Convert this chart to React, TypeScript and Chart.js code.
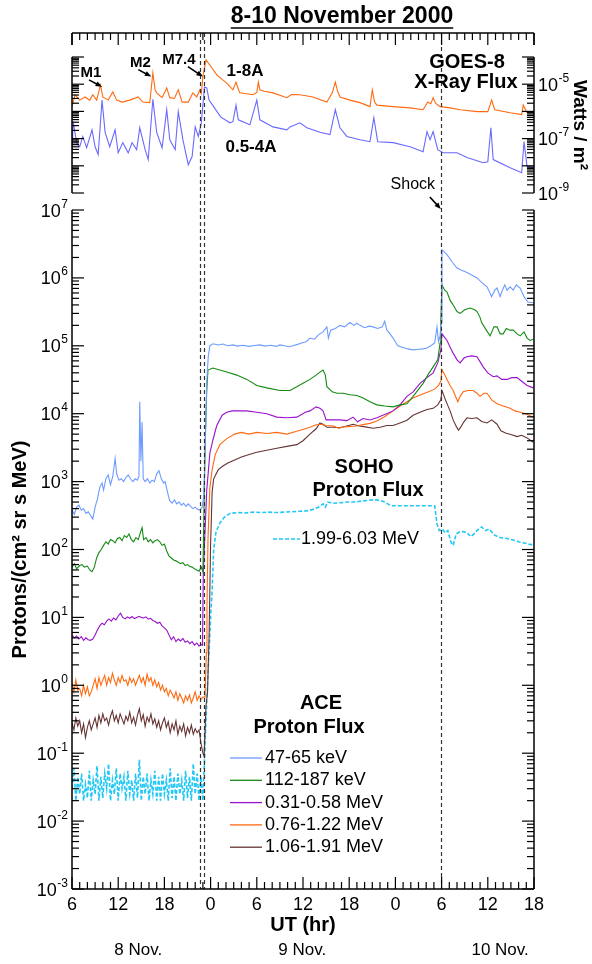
import React, { useEffect, useRef } from 'react';
import { Chart, registerables } from 'chart.js';

Chart.register(...registerables);

const FONT = '"Liberation Sans", Arial, Helvetica, sans-serif';
const W = 592;
const H = 964;

// ---------- axis / label data (time = hours since 8 Nov 2000 06:00 UT) ----------
const xTickLabels = ['6', '12', '18', '0', '6', '12', '18', '0', '6', '12', '18'];
const dayLabels = ['8 Nov.', '9 Nov.', '10 Nov.'];
const dayLabelHours = [8.6, 29.9, 55.6];
const eventLineHours = [16.6, 17.2, 47.9];
const protonDecades = [-3, -2, -1, 0, 1, 2, 3, 4, 5, 6, 7];
const goesDecades = [-9, -8, -7, -6, -5, -4];
const goesLabelDecades = [-5, -7, -9];
const flareLabels = ['M1', 'M2', 'M7.4'];
const flareTipHours = [3.9, 10.3, 17.0];
const flareTipFlux = [8.0e-6, 1.9e-5, 1.9e-5];

// ---------- GOES-8 X-ray flux (W/m^2) ----------
const goesLong: [number, number][] = [
  [0, 1.5e-6], [0.4, 4.1e-6], [1.0, 2.6e-6], [1.7, 3.4e-6], [2.3, 2.6e-6], [2.7, 4.1e-6], [3.2, 2.6e-6],
  [3.7, 9.4e-6], [4.0, 3.4e-6], [4.7, 2.6e-6], [5.3, 5.2e-6], [5.8, 2.6e-6], [6.5, 2.2e-6], [7.5, 2.6e-6],
  [8.6, 3.4e-6], [9.2, 2.2e-6], [10.1, 2.1e-6], [10.5, 2.6e-5], [10.8, 6.0e-6], [11.0, 4.8e-6], [11.7, 3.2e-6],
  [12.3, 7.3e-6], [12.7, 3.2e-6], [13.3, 3.0e-6], [13.8, 6.2e-6], [14.3, 2.2e-6], [15.1, 2.2e-6], [15.7, 4.8e-6],
  [16.2, 3.4e-6], [16.6, 6.2e-6], [16.8, 4.5e-6], [17.0, 1.9e-5], [17.4, 7.8e-5], [17.9, 5.1e-5], [18.8, 2.2e-5],
  [19.5, 1.5e-5], [20.1, 1.1e-5], [20.9, 6.2e-6], [21.3, 1.2e-5], [21.6, 6.5e-6], [21.8, 4.8e-6], [23.5, 4.1e-6],
  [24.0, 5.0e-6], [24.2, 1.2e-5], [24.4, 6.2e-6], [25.0, 5.5e-6], [26.1, 4.8e-6], [27.9, 3.2e-6], [28.5, 4.2e-6],
  [29.6, 4.1e-6], [31.3, 3.4e-6], [33.1, 2.2e-6], [33.8, 4.8e-6], [34.2, 1.2e-5], [34.5, 5.5e-6], [34.8, 3.4e-6],
  [36.1, 2.6e-6], [37.4, 2.1e-6], [38.7, 1.5e-6], [39.0, 6.2e-6], [39.3, 2.2e-6], [39.6, 1.7e-6], [41.7, 1.5e-6],
  [43.9, 1.35e-6], [45.6, 1.15e-6], [46.2, 2.2e-6], [46.6, 1.9e-6], [46.9, 3.2e-6], [47.2, 2.0e-6], [47.8, 1.5e-6],
  [49.1, 1.35e-6], [50.4, 1.15e-6], [52.6, 9.8e-7], [54.0, 9.8e-7], [54.5, 2.6e-6], [54.9, 1.15e-6], [56.9, 8.9e-7],
  [58.4, 7.6e-7], [58.6, 1.7e-6], [59.1, 8.9e-7], [60, 8.9e-7],
];
const goesShort: [number, number][] = [
  [0, 2.2e-8], [0.15, 4.2e-7], [0.6, 7.1e-8], [1.0, 5.0e-8], [1.4, 1.2e-7], [1.9, 4.6e-8], [2.6, 2.1e-7],
  [3.0, 5.0e-8], [3.4, 2.6e-8], [3.9, 2.6e-6], [4.3, 1.7e-7], [4.9, 5.0e-8], [5.6, 2.1e-7], [6.0, 3.0e-8],
  [6.6, 7.1e-8], [7.3, 3.0e-8], [7.8, 7.1e-8], [8.4, 3.9e-8], [8.8, 2.5e-7], [9.5, 3.9e-8], [9.9, 1.7e-8],
  [10.5, 2.8e-6], [11.0, 1.7e-7], [11.7, 4.6e-8], [12.3, 1.15e-6], [12.7, 9.1e-8], [13.4, 3.9e-8], [13.8, 9.8e-7],
  [14.4, 9.1e-8], [15.1, 1.1e-8], [15.6, 2.2e-8], [16.0, 2.7e-7], [16.4, 1.2e-7], [16.8, 3.8e-7], [17.2, 7.9e-6],
  [17.5, 7.3e-6], [17.8, 2.6e-6], [18.4, 1.5e-6], [19.3, 6.3e-7], [20.5, 3.8e-7], [20.9, 4.2e-7], [21.3, 1.7e-6],
  [21.6, 4.9e-7], [23.1, 3.2e-7], [24.0, 2.6e-6], [24.4, 4.9e-7], [26.1, 2.7e-7], [27.9, 2.1e-7], [28.3, 2.7e-7],
  [29.6, 3.8e-7], [30.5, 2.5e-7], [32.2, 1.7e-7], [33.5, 1.4e-7], [34.2, 1.15e-6], [34.8, 2.5e-7], [35.7, 1.2e-7],
  [37.4, 9.1e-8], [38.7, 7.7e-8], [39.2, 5.9e-7], [39.7, 7.7e-8], [41.7, 7.1e-8], [43.9, 5.0e-8], [45.6, 3.3e-8],
  [46.1, 1.8e-7], [46.5, 9.1e-8], [46.9, 1.8e-7], [47.5, 3.9e-8], [48.2, 3.0e-8], [50.0, 3.0e-8], [51.3, 2.0e-8],
  [53.4, 1.3e-8], [54.0, 1.4e-8], [54.4, 2.5e-7], [54.7, 1.7e-8], [56.9, 8.5e-9], [58.4, 5.6e-9], [58.7, 7.7e-8],
  [59.1, 9.3e-9], [60, 8.5e-9],
];

// ---------- ACE proton flux ----------
const ace47: [number, number][] = [
  [0, 380], [0.3, 330], [0.6, 420], [0.9, 450], [1.2, 380], [1.5, 400], [1.8, 340], [2.1, 360], [2.4, 320],
  [2.7, 280], [3.0, 420], [3.3, 550], [3.6, 820], [3.9, 950], [4.1, 750], [4.4, 1100], [4.7, 1250], [5.0, 900],
  [5.3, 1200], [5.6, 2200], [5.8, 1300], [6.1, 1050], [6.4, 1100], [6.7, 1000], [7.0, 1150], [7.3, 1250],
  [7.6, 1100], [7.9, 1000], [8.2, 1100], [8.5, 1050], [8.7, 1200], [8.8, 15000], [8.95, 2000], [9.1, 7500],
  [9.25, 1100], [9.5, 1000], [9.8, 1100], [10.1, 950], [10.4, 1050], [10.7, 1000], [11.0, 1300], [11.3, 1450],
  [11.6, 1100], [11.9, 950], [12.1, 1000], [12.4, 700], [12.7, 520], [13.0, 480], [13.3, 540], [13.6, 470],
  [13.9, 500], [14.2, 450], [14.5, 480], [14.8, 430], [15.1, 470], [15.4, 430], [15.7, 400], [16.0, 420],
  [16.3, 390], [16.6, 380], [16.9, 420], [17.1, 600], [17.3, 3000], [17.5, 3.0e4], [17.7, 7.0e4], [17.9, 1.0e5],
  [18.3, 1.07e5], [19.0, 1.03e5], [19.6, 1.06e5], [20.2, 1.0e5], [20.9, 1.03e5], [21.5, 9.9e4], [22.2, 1.02e5],
  [23.0, 9.8e4], [23.7, 1.01e5], [24.4, 1.03e5], [25.1, 9.9e4], [25.8, 1.02e5], [26.5, 9.8e4], [27.0, 1.03e5],
  [27.6, 1.0e5], [28.2, 9.7e4], [28.7, 1.0e5], [29.3, 1.05e5], [29.8, 1.1e5], [30.4, 1.15e5], [30.9, 1.3e5],
  [31.5, 1.25e5], [32.0, 1.45e5], [32.6, 1.6e5], [33.1, 1.9e5], [33.3, 1.3e5], [33.6, 1.7e5], [34.2, 1.8e5],
  [34.8, 2.0e5], [35.4, 1.9e5], [36.1, 2.2e5], [36.6, 2.0e5], [37.0, 2.15e5], [37.4, 2.0e5], [38.0, 1.85e5],
  [38.6, 1.95e5], [39.1, 1.9e5], [39.7, 1.8e5], [40.3, 1.9e5], [40.6, 2.3e5], [40.9, 1.7e5], [41.3, 1.5e5],
  [41.7, 1.3e5], [42.3, 1.0e5], [42.9, 9.5e4], [43.6, 9.0e4], [44.3, 8.7e4], [45.0, 8.9e4], [45.6, 9.0e4],
  [46.1, 9.3e4], [46.6, 1.0e5], [47.1, 1.1e5], [47.4, 1.9e5], [47.6, 1.15e5], [47.8, 1.4e5], [47.95, 2.2e5],
  [48.05, 2.6e6], [48.7, 2.2e6], [49.4, 1.7e6], [50.0, 1.4e6], [50.6, 1.3e6], [51.3, 1.2e6], [51.9, 1.1e6],
  [52.6, 1.0e6], [53.2, 8.6e5], [53.9, 7.4e5], [54.5, 5.3e5], [54.9, 6.6e5], [55.2, 7.1e5], [55.6, 5.3e5],
  [55.8, 6.2e5], [56.2, 7.9e5], [56.5, 6.6e5], [56.9, 7.4e5], [57.3, 6.6e5], [57.7, 7.9e5], [58.2, 7.1e5],
  [58.7, 5.3e5], [59.2, 4.4e5], [59.9, 4.3e5],
];
const ace112: [number, number][] = [
  [0, 55], [0.3, 62], [0.6, 52], [1.0, 58], [1.3, 60], [1.6, 55], [2.0, 57], [2.3, 50], [2.6, 47], [2.9, 55],
  [3.2, 75], [3.5, 90], [3.8, 100], [4.1, 115], [4.4, 130], [4.7, 120], [5.0, 140], [5.3, 135], [5.6, 125],
  [5.9, 145], [6.2, 150], [6.5, 135], [6.8, 160], [7.1, 150], [7.4, 170], [7.7, 140], [8.0, 130], [8.3, 150],
  [8.6, 140], [8.9, 180], [9.1, 210], [9.3, 140], [9.6, 150], [9.9, 130], [10.2, 140], [10.5, 125], [10.8, 135],
  [11.1, 140], [11.4, 130], [11.7, 115], [12.0, 120], [12.3, 95], [12.6, 80], [12.9, 75], [13.2, 70], [13.5, 68],
  [13.8, 65], [14.1, 62], [14.4, 64], [14.7, 58], [15.0, 60], [15.3, 56], [15.6, 55], [15.9, 52], [16.2, 50],
  [16.5, 48], [16.8, 55], [17.0, 47], [17.15, 450], [17.3, 4000], [17.5, 2.2e4], [17.66, 4.4e4], [18.3, 4.7e4],
  [19.2, 4.4e4], [20.1, 4.1e4], [21.4, 3.7e4], [22.7, 3.2e4], [24.0, 2.6e4], [25.3, 2.4e4], [27.0, 2.2e4],
  [28.3, 2.2e4], [29.2, 2.5e4], [30.0, 2.8e4], [30.9, 3.2e4], [31.7, 3.7e4], [32.2, 4.1e4], [32.6, 4.4e4],
  [32.9, 3.7e4], [33.1, 2.5e4], [33.8, 2.1e4], [34.4, 2.0e4], [35.2, 2.0e4], [36.1, 1.9e4], [37.0, 1.85e4],
  [37.8, 1.7e4], [38.7, 1.5e4], [39.6, 1.35e4], [40.6, 1.3e4], [41.7, 1.26e4], [42.6, 1.35e4], [43.5, 1.4e4],
  [44.3, 1.8e4], [44.9, 2.2e4], [45.6, 2.8e4], [46.2, 3.7e4], [46.9, 4.9e4], [47.5, 6.2e4], [47.8, 1.1e5],
  [47.9, 2.4e5], [48.05, 7.9e5], [48.4, 6.6e5], [48.7, 6.2e5], [49.1, 4.7e5], [49.5, 4.0e5], [50.0, 3.2e5],
  [50.4, 3.0e5], [51.0, 3.4e5], [51.7, 3.6e5], [52.3, 3.4e5], [52.6, 3.2e5], [53.0, 2.6e5], [53.2, 2.2e5],
  [53.8, 1.7e5], [54.3, 1.4e5], [54.8, 1.9e5], [55.2, 1.9e5], [55.6, 1.5e5], [56.0, 1.5e5], [56.4, 1.8e5],
  [56.9, 1.7e5], [57.3, 1.7e5], [57.8, 1.5e5], [58.2, 1.4e5], [58.7, 1.6e5], [59.1, 1.3e5], [59.5, 1.2e5],
  [59.9, 1.25e5],
];
const ace031: [number, number][] = [
  [0, 5.5], [0.3, 5.0], [0.6, 5.3], [0.9, 4.8], [1.2, 5.2], [1.5, 4.6], [1.8, 5.0], [2.1, 4.7], [2.4, 4.6],
  [2.7, 4.8], [3.0, 5.5], [3.3, 6.5], [3.6, 7.5], [3.9, 8.2], [4.2, 7.8], [4.5, 8.8], [4.8, 9.5], [5.1, 8.8],
  [5.4, 9.8], [5.7, 9.2], [6.0, 10.5], [6.3, 11.5], [6.6, 10.0], [6.9, 9.5], [7.2, 10.2], [7.5, 9.7], [7.8, 10.3],
  [8.1, 9.6], [8.4, 10.0], [8.7, 10.4], [9.0, 10.0], [9.3, 9.8], [9.6, 10.2], [9.9, 9.4], [10.2, 9.7], [10.5, 9.0],
  [10.8, 8.7], [11.1, 8.2], [11.4, 8.5], [11.7, 7.5], [12.0, 7.0], [12.3, 6.5], [12.6, 5.5], [12.9, 4.7],
  [13.2, 5.2], [13.5, 4.4], [13.8, 4.8], [14.1, 4.5], [14.4, 4.9], [14.7, 4.3], [15.0, 4.5], [15.3, 4.1],
  [15.6, 4.4], [15.9, 3.9], [16.2, 4.2], [16.5, 3.8], [16.8, 4.0], [16.95, 3.9], [17.05, 45], [17.5, 750],
  [17.9, 2600], [18.3, 4100], [18.8, 6700], [19.5, 9500], [20.1, 1.05e4], [20.8, 1.1e4], [21.8, 1.1e4],
  [22.7, 1.1e4], [24.0, 1.05e4], [25.3, 1.0e4], [26.6, 8900], [27.9, 8700], [29.2, 8900], [30.3, 1.05e4],
  [30.9, 1.1e4], [31.7, 1.26e4], [32.2, 1.2e4], [32.6, 1.1e4], [33.0, 8100], [33.9, 8100], [34.8, 8100],
  [35.7, 7900], [36.5, 8900], [37.1, 7600], [37.8, 8500], [38.7, 8100], [39.6, 8700], [40.6, 9700],
  [41.7, 1.1e4], [42.6, 1.35e4], [43.5, 1.8e4], [44.3, 2.1e4], [45.2, 2.8e4], [46.1, 3.4e4], [46.9, 4.0e4],
  [47.5, 5.6e4], [47.9, 8.7e4], [48.05, 1.5e5], [48.7, 1.2e5], [49.1, 9.6e4], [49.5, 7.8e4], [50.0, 6.2e4],
  [50.4, 5.6e4], [50.9, 6.6e4], [51.3, 6.9e4], [51.9, 7.1e4], [52.6, 6.9e4], [53.0, 5.8e4], [53.4, 4.9e4],
  [54.0, 4.0e4], [54.7, 3.5e4], [55.2, 3.6e4], [55.8, 3.2e4], [56.5, 3.2e4], [57.1, 3.4e4], [57.8, 3.4e4],
  [58.4, 3.0e4], [59.1, 2.6e4], [59.9, 2.4e4],
];
const ace076: [number, number][] = [
  [0, 1.1], [0.25, 0.8], [0.5, 1.2], [0.75, 0.85], [1.0, 0.9], [1.25, 0.7], [1.5, 1.0], [1.75, 0.75], [2.0, 0.95],
  [2.25, 0.7], [2.5, 0.8], [2.75, 1.0], [3.0, 1.25], [3.25, 0.9], [3.5, 1.3], [3.75, 1.0], [4.0, 1.2], [4.25, 1.4],
  [4.5, 1.0], [4.75, 1.3], [5.0, 1.1], [5.25, 1.5], [5.5, 1.2], [5.75, 1.0], [6.0, 1.3], [6.25, 1.1], [6.5, 1.4],
  [6.75, 1.15], [7.0, 1.2], [7.25, 1.0], [7.5, 1.3], [7.75, 1.1], [8.0, 1.25], [8.25, 1.0], [8.5, 1.2], [8.75, 1.4],
  [9.0, 1.1], [9.25, 1.3], [9.5, 1.0], [9.75, 1.45], [10.0, 1.15], [10.25, 1.3], [10.5, 1.0], [10.75, 1.2],
  [11.0, 0.95], [11.25, 1.1], [11.5, 0.85], [11.75, 1.0], [12.0, 0.8], [12.25, 0.9], [12.5, 0.7], [12.75, 0.85],
  [13.0, 0.75], [13.25, 0.65], [13.5, 0.8], [13.75, 0.6], [14.0, 0.75], [14.25, 0.65], [14.5, 0.55], [14.75, 0.7],
  [15.0, 0.6], [15.25, 0.72], [15.5, 0.55], [15.75, 0.65], [16.0, 0.8], [16.25, 0.6], [16.5, 0.7], [16.75, 0.62],
  [17.0, 0.67], [17.27, 0.67], [17.45, 3], [17.53, 14], [17.66, 140], [17.9, 800], [18.2, 1500], [18.6, 2500],
  [19.2, 3500], [20.1, 4300], [21.1, 5000], [22.0, 5300], [23.0, 5000], [24.0, 5300], [25.3, 5100], [26.6, 5300],
  [27.9, 5000], [29.2, 5500], [30.3, 6000], [30.9, 6300], [31.6, 6800], [32.2, 7000], [33.0, 6700], [34.0, 6600],
  [34.6, 6100], [35.3, 6400], [36.1, 6500], [37.0, 6600], [37.8, 6900], [38.7, 7200], [39.6, 7800], [40.6, 9000],
  [41.7, 1.1e4], [42.6, 1.3e4], [43.5, 1.5e4], [44.3, 1.7e4], [45.3, 1.9e4], [46.3, 2.1e4], [47.1, 2.3e4],
  [47.6, 2.6e4], [47.9, 3.0e4], [48.05, 4.5e4], [48.7, 3.2e4], [49.1, 2.6e4], [49.5, 2.2e4], [49.9, 1.7e4],
  [50.1, 1.5e4], [50.4, 1.8e4], [50.8, 2.1e4], [51.4, 2.2e4], [52.1, 2.2e4], [52.6, 2.0e4], [53.0, 1.8e4],
  [53.5, 2.0e4], [53.9, 2.0e4], [54.5, 1.6e4], [55.2, 1.4e4], [56.0, 1.3e4], [56.9, 1.2e4], [57.5, 1.1e4],
  [58.2, 1.05e4], [58.9, 1.0e4], [59.9, 8900],
];
const ace106: [number, number][] = [
  [0, 0.28], [0.25, 0.22], [0.5, 0.33], [0.75, 0.25], [1.0, 0.3], [1.25, 0.2], [1.5, 0.27], [1.75, 0.17],
  [2.0, 0.24], [2.25, 0.3], [2.5, 0.22], [2.75, 0.27], [3.0, 0.33], [3.25, 0.24], [3.5, 0.36], [3.75, 0.28],
  [4.0, 0.38], [4.25, 0.3], [4.5, 0.33], [4.75, 0.26], [5.0, 0.35], [5.25, 0.42], [5.5, 0.3], [5.75, 0.36],
  [6.0, 0.28], [6.25, 0.38], [6.5, 0.32], [6.75, 0.27], [7.0, 0.35], [7.25, 0.3], [7.5, 0.4], [7.75, 0.28],
  [8.0, 0.34], [8.25, 0.26], [8.5, 0.36], [8.75, 0.45], [9.0, 0.3], [9.25, 0.37], [9.5, 0.25], [9.75, 0.34],
  [10.0, 0.29], [10.25, 0.38], [10.5, 0.27], [10.75, 0.32], [11.0, 0.24], [11.25, 0.3], [11.5, 0.22], [11.75, 0.28],
  [12.0, 0.33], [12.25, 0.24], [12.5, 0.29], [12.75, 0.2], [13.0, 0.27], [13.25, 0.22], [13.5, 0.3], [13.75, 0.19],
  [14.0, 0.25], [14.25, 0.21], [14.5, 0.27], [14.75, 0.18], [15.0, 0.24], [15.25, 0.2], [15.5, 0.26], [15.75, 0.19],
  [16.0, 0.23], [16.25, 0.2], [16.5, 0.22], [16.75, 0.14], [17.0, 0.1], [17.15, 0.09], [17.4, 0.5], [17.6, 0.8],
  [17.8, 5], [18.0, 120], [18.2, 700], [18.4, 1100], [19.0, 1500], [19.6, 1700], [20.3, 1900], [21.2, 2100],
  [22.0, 2300], [23.0, 2500], [24.0, 2700], [25.3, 2900], [26.6, 3100], [27.9, 3300], [29.2, 3500], [30.0, 4000],
  [30.9, 5000], [31.7, 6000], [32.2, 7300], [32.6, 7000], [33.1, 6300], [34.0, 6300], [34.8, 6200], [35.7, 6600],
  [36.5, 7000], [37.3, 6600], [38.1, 6400], [39.1, 6100], [40.0, 6300], [40.9, 6700], [41.7, 6700], [42.6, 7300],
  [43.5, 8000], [44.3, 9500], [45.2, 1.05e4], [46.1, 1.15e4], [46.9, 1.2e4], [47.5, 1.35e4], [47.9, 1.6e4],
  [48.05, 2.2e4], [48.5, 1.6e4], [49.1, 1.1e4], [49.5, 8100], [49.9, 6500], [50.2, 5700], [50.5, 6400],
  [50.9, 7600], [51.3, 8700], [51.9, 8500], [52.6, 8700], [53.2, 7700], [53.9, 7300], [54.5, 8100], [55.2, 7000],
  [55.7, 5600], [56.3, 5200], [57.1, 4900], [57.8, 4600], [58.4, 4800], [59.1, 4400], [59.9, 3800],
];

// ---------- SOHO proton flux ----------
const soho199: [number, number][] = [
  [0, 0.03], [0.25, 0.06], [0.5, 0.02], [0.75, 0.045], [1.0, 0.025], [1.25, 0.05], [1.5, 0.02], [1.75, 0.035],
  [2.0, 0.022], [2.25, 0.055], [2.5, 0.02], [2.75, 0.04], [3.0, 0.025], [3.25, 0.065], [3.5, 0.02], [3.75, 0.045],
  [4.0, 0.022], [4.25, 0.05], [4.5, 0.03], [4.75, 0.07], [5.0, 0.02], [5.25, 0.04], [5.5, 0.025], [5.75, 0.06],
  [6.0, 0.02], [6.25, 0.05], [6.5, 0.03], [6.75, 0.045], [7.0, 0.02], [7.25, 0.055], [7.5, 0.025], [7.75, 0.04],
  [8.0, 0.02], [8.25, 0.05], [8.5, 0.022], [8.75, 0.08], [9.0, 0.02], [9.25, 0.045], [9.5, 0.025], [9.75, 0.05],
  [10.0, 0.02], [10.25, 0.04], [10.5, 0.025], [10.75, 0.055], [11.0, 0.02], [11.25, 0.045], [11.5, 0.02],
  [11.75, 0.05], [12.0, 0.025], [12.25, 0.04], [12.5, 0.02], [12.75, 0.06], [13.0, 0.022], [13.25, 0.045],
  [13.5, 0.02], [13.75, 0.05], [14.0, 0.025], [14.25, 0.04], [14.5, 0.02], [14.75, 0.055], [15.0, 0.022],
  [15.25, 0.045], [15.5, 0.02], [15.75, 0.07], [16.0, 0.025], [16.25, 0.05], [16.5, 0.02], [16.75, 0.045],
  [17.0, 0.02], [17.3, 0.16], [17.66, 1.5], [18.0, 10], [18.2, 25], [18.4, 100], [18.7, 180], [19.2, 245],
  [19.8, 300], [20.5, 340], [21.5, 350], [22.5, 345], [23.5, 355], [24.5, 350], [25.5, 355], [26.5, 350],
  [27.5, 355], [28.5, 360], [29.5, 365], [30.5, 370], [31.3, 390], [32.0, 420], [32.6, 470], [32.9, 420],
  [33.2, 500], [34.0, 480], [35.0, 490], [35.7, 500], [36.5, 500], [37.2, 510], [37.8, 520], [38.5, 530],
  [39.2, 540], [40.0, 530], [40.6, 500], [41.0, 470], [41.5, 440], [42.5, 440], [43.5, 440], [44.5, 440],
  [45.5, 440], [46.5, 440], [47.1, 440], [47.4, 240], [47.7, 190], [48.1, 200], [48.5, 175], [48.8, 190],
  [49.2, 130], [49.5, 115], [49.9, 170], [50.5, 185], [51.2, 180], [51.8, 155], [52.2, 170], [52.8, 200],
  [53.2, 215], [53.7, 190], [54.2, 200], [54.8, 165], [55.5, 150], [56.5, 145], [57.3, 138], [58.0, 130],
  [58.7, 125], [59.3, 120], [59.9, 117],
];

const aceLegend = ['47-65 keV', '112-187 keV', '0.31-0.58 MeV', '0.76-1.22 MeV', '1.06-1.91 MeV'];
const sohoLegend = '1.99-6.03 MeV';

// ---------- layout (pixels) ----------
const FRAME = { left: 72, right: 534, top: 33, bottom: 889 };
const GOES_PIX = { top: 57, bottom: 193 }; // 1e-4 .. 1e-9
const PROTON_TOP_PIX = 210; // 1e7

const goesPerDec = (GOES_PIX.bottom - GOES_PIX.top) / 5;
const protonPerDec = (FRAME.bottom - PROTON_TOP_PIX) / 10;
const yXmax = Math.pow(10, -4 + (GOES_PIX.top - FRAME.top) / goesPerDec);
const yXmin = Math.pow(10, -9 - (FRAME.bottom - GOES_PIX.bottom) / goesPerDec);
const yPmax = Math.pow(10, 7 + (PROTON_TOP_PIX - FRAME.top) / protonPerDec);
const yPmin = 1e-3;

const toXY = (arr: [number, number][]) => arr.map(([x, y]) => ({ x, y }));

function line(ctx: CanvasRenderingContext2D, x1: number, y1: number, x2: number, y2: number) {
  ctx.beginPath();
  ctx.moveTo(x1, y1);
  ctx.lineTo(x2, y2);
  ctx.stroke();
}

function arrow(ctx: CanvasRenderingContext2D, x1: number, y1: number, x2: number, y2: number) {
  ctx.lineWidth = 1.6;
  line(ctx, x1, y1, x2 - (x2 - x1) * 0.2, y2 - (y2 - y1) * 0.2);
  const a = Math.atan2(y2 - y1, x2 - x1);
  const s = 7;
  ctx.beginPath();
  ctx.moveTo(x2, y2);
  ctx.lineTo(x2 - s * Math.cos(a - 0.38), y2 - s * Math.sin(a - 0.38));
  ctx.lineTo(x2 - s * Math.cos(a + 0.38), y2 - s * Math.sin(a + 0.38));
  ctx.closePath();
  ctx.fill();
}

function text(ctx: CanvasRenderingContext2D, s: string, x: number, y: number, size: number, bold = false, align: CanvasTextAlign = 'center') {
  ctx.font = `${bold ? 'bold ' : ''}${size}px ${FONT}`;
  ctx.textAlign = align;
  ctx.textBaseline = 'middle';
  ctx.fillText(s, x, y);
}

function drawPow(ctx: CanvasRenderingContext2D, exp: number, x: number, y: number, align: 'left' | 'right') {
  const base = '10';
  const e = String(exp);
  ctx.font = `18px ${FONT}`;
  const wb = ctx.measureText(base).width;
  ctx.font = `12px ${FONT}`;
  const we = ctx.measureText(e).width;
  const x0 = align === 'right' ? x - wb - we - 0.5 : x;
  ctx.textAlign = 'left';
  ctx.textBaseline = 'alphabetic';
  ctx.font = `18px ${FONT}`;
  ctx.fillText(base, x0, y + 6.5);
  ctx.font = `12px ${FONT}`;
  ctx.fillText(e, x0 + wb + 0.5, y - 2.5);
}

const overlayPlugin = {
  id: 'overlay',
  afterDatasetsDraw(chart: any) {
    const ctx: CanvasRenderingContext2D = chart.ctx;
    const xs = chart.scales.x;
    const yP = chart.scales.yP;
    const yX = chart.scales.yX;
    const { left: L, right: R, top: T, bottom: B } = chart.chartArea;
    ctx.save();
    ctx.fillStyle = '#000';

    // event / shock dashed lines
    ctx.strokeStyle = '#333';
    ctx.lineWidth = 1.2;
    ctx.setLineDash([4, 3]);
    eventLineHours.forEach((h) => {
      const x = Math.round(xs.getPixelForValue(h)) + 0.5;
      line(ctx, x, T, x, B);
    });
    ctx.setLineDash([]);

    // frame
    ctx.strokeStyle = '#000';
    ctx.lineWidth = 1.5;
    line(ctx, L, T, R, T);
    line(ctx, L, B, R, B);
    line(ctx, L, T, L, T + 12);
    line(ctx, R, T, R, T + 12);
    const gTop = yX.getPixelForValue(1e-4);
    const gBot = yX.getPixelForValue(1e-9);
    line(ctx, L, gTop, L, gBot);
    line(ctx, R, gTop, R, gBot);
    const pTop = yP.getPixelForValue(1e7);
    line(ctx, L, pTop, L, B);
    line(ctx, R, pTop, R, B);

    // x ticks (hourly, major every 6 h)
    ctx.lineWidth = 1.2;
    for (let h = 0; h <= 60; h++) {
      const x = xs.getPixelForValue(h);
      const len = h % 6 === 0 ? 12 : 7;
      line(ctx, x, T, x, T + len);
      line(ctx, x, B, x, B - len);
    }
    // log ticks
    const logTicks = (scale: any, decades: number[]) => {
      decades.forEach((d, i) => {
        const y = scale.getPixelForValue(Math.pow(10, d));
        line(ctx, L, y, L + 12, y);
        line(ctx, R, y, R - 12, y);
        if (i < decades.length - 1) {
          for (let k = 2; k <= 9; k++) {
            const ym = scale.getPixelForValue(k * Math.pow(10, d));
            line(ctx, L, ym, L + 7, ym);
            line(ctx, R, ym, R - 7, ym);
          }
        }
      });
    };
    logTicks(yX, goesDecades);
    logTicks(yP, protonDecades);

    // y tick labels
    protonDecades.forEach((d) => drawPow(ctx, d, 68, yP.getPixelForValue(Math.pow(10, d)), 'right'));
    goesLabelDecades.forEach((d) => drawPow(ctx, d, 538, yX.getPixelForValue(Math.pow(10, d)), 'left'));

    // title
    ctx.font = `bold 23px ${FONT}`;
    const title = '8-10 November 2000';
    const tw = ctx.measureText(title).width;
    const cx = (L + R) / 2 + 39;
    text(ctx, title, cx, 17, 23, true);
    ctx.lineWidth = 1.6;
    line(ctx, cx - tw / 2, 28, cx + tw / 2, 28);

    // axis titles
    ctx.save();
    ctx.translate(20, (pTop + B) / 2);
    ctx.rotate(-Math.PI / 2);
    text(ctx, 'Protons/(cm² sr s MeV)', 0, 0, 20, true);
    ctx.restore();
    ctx.save();
    ctx.translate(579, (gTop + gBot) / 2);
    ctx.rotate(Math.PI / 2);
    text(ctx, 'Watts / m²', 0, 0, 19, true);
    ctx.restore();
    text(ctx, 'UT (hr)', (L + R) / 2, 925, 20, true);
    dayLabels.forEach((s, i) => text(ctx, s, xs.getPixelForValue(dayLabelHours[i]), 950, 17));

    // GOES annotations
    text(ctx, 'GOES-8', 467, 62, 20, true);
    text(ctx, 'X-Ray Flux', 466, 82, 20, true);
    text(ctx, '1-8A', 245, 71, 17, true);
    text(ctx, '0.5-4A', 251, 147, 17, true);
    flareLabels.forEach((s, i) => {
      const tx = xs.getPixelForValue(flareTipHours[i]);
      const ty = yX.getPixelForValue(flareTipFlux[i]);
      const big = i === 2;
      const sx = tx - (big ? 15 : 13);
      const sy = ty - (big ? 10 : 7);
      arrow(ctx, sx, sy, tx, ty);
      text(ctx, s, sx + (big ? -9 : 2), sy - (big ? 7 : 7), 15, true);
    });
    // shock
    const shx = xs.getPixelForValue(eventLineHours[2]);
    arrow(ctx, shx - 11, pTop - 13, shx, pTop - 1);
    text(ctx, 'Shock', shx - 28, pTop - 25, 16);

    // SOHO legend
    const ds = chart.data.datasets;
    text(ctx, 'SOHO', 364, 467, 20, true);
    text(ctx, 'Proton Flux', 368, 490, 20, true);
    ctx.strokeStyle = ds[7].borderColor;
    ctx.lineWidth = 1.6;
    ctx.setLineDash([4, 2]);
    line(ctx, 273, 539, 300, 539);
    ctx.setLineDash([]);
    text(ctx, sohoLegend, 301, 539, 18, false, 'left');

    // ACE legend
    text(ctx, 'ACE', 321, 703, 20, true);
    text(ctx, 'Proton Flux', 309, 727, 20, true);
    aceLegend.forEach((s, i) => {
      const y = 758 + i * 22.3;
      ctx.strokeStyle = ds[2 + i].borderColor;
      ctx.lineWidth = 1.3;
      line(ctx, 230, y, 262, y);
      text(ctx, s, 265, y, 18, false, 'left');
    });
    ctx.restore();
  },
};

export default function App() {
  const ref = useRef<HTMLCanvasElement>(null);
  useEffect(() => {
    const canvas = ref.current;
    if (!canvas) return;
    const mk = (label: string, data: [number, number][], color: string, axis: string, extra: any = {}) => ({
      label,
      data: toXY(data),
      borderColor: color,
      backgroundColor: color,
      borderWidth: 1.1,
      pointRadius: 0,
      fill: false,
      tension: 0,
      yAxisID: axis,
      ...extra,
    });
    const chart = new Chart(canvas, {
      type: 'line',
      data: {
        datasets: [
          mk('1-8A', goesLong, '#ff6a10', 'yX'),
          mk('0.5-4A', goesShort, '#6a6aff', 'yX'),
          mk(aceLegend[0], ace47, '#6e9bff', 'yP'),
          mk(aceLegend[1], ace112, '#148a14', 'yP'),
          mk(aceLegend[2], ace031, '#9a12cc', 'yP'),
          mk(aceLegend[3], ace076, '#ff6a10', 'yP'),
          mk(aceLegend[4], ace106, '#663333', 'yP'),
          mk(sohoLegend, soho199, '#22c8f5', 'yP', { borderDash: [4, 2], borderWidth: 1.6 }),
        ],
      },
      options: {
        animation: false,
        responsive: false,
        maintainAspectRatio: false,
        devicePixelRatio: 1,
        events: [],
        layout: { padding: { left: FRAME.left, right: W - FRAME.right, top: FRAME.top, bottom: 0 } },
        plugins: { legend: { display: false }, tooltip: { enabled: false }, title: { display: false } },
        scales: {
          x: {
            type: 'linear',
            min: 0,
            max: 60,
            bounds: 'data',
            position: 'bottom',
            grid: { display: false, drawTicks: false },
            border: { display: false },
            afterFit: (s: any) => {
              s.height = H - FRAME.bottom;
            },
            ticks: {
              stepSize: 6,
              autoSkip: false,
              maxRotation: 0,
              padding: 5,
              color: '#000',
              font: { family: FONT, size: 18 },
              callback: (_v: any, i: number) => xTickLabels[i] ?? '',
            },
          },
          yP: { type: 'logarithmic', display: false, min: yPmin, max: yPmax, bounds: 'data' },
          yX: { type: 'logarithmic', display: false, min: yXmin, max: yXmax, bounds: 'data' },
        },
      },
      plugins: [overlayPlugin],
    } as any);
    return () => chart.destroy();
  }, []);
  return (
    <div style={{ position: 'absolute', left: 0, top: 0, width: W, height: H, background: '#fff' }}>
      <canvas ref={ref} width={W} height={H} style={{ width: W, height: H, display: 'block' }} />
    </div>
  );
}
